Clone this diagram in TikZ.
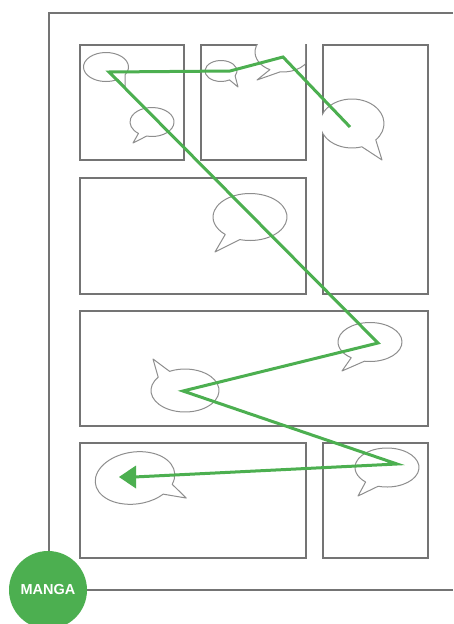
\documentclass[tikz,border=0pt]{standalone}
\usepackage{fontspec}
\setmainfont{Liberation Sans}
\usetikzlibrary{calc}
\definecolor{frame}{HTML}{747474}
\definecolor{bubc}{HTML}{8E8E8E}
\definecolor{mgreen}{HTML}{4CAF50}
\tikzset{
  panel/.style={draw=frame, line width=1.5pt},
  page/.style={draw=frame, line width=1.5pt},
  bub/.style={draw=bubc, line width=1pt, fill=white, line join=round},
  readpath/.style={draw=mgreen, line width=3pt, line join=miter},
  badge/.style={circle, fill=mgreen, minimum size=78pt, inner sep=0pt, text=white, font=\bfseries\fontsize{14.5}{15}\selectfont},
}
% \bub{cx}{cy}{rx}{ry}{a1}{a2}{tipx}{tipy}  (image coordinates, y downward)
\newcommand\bub[8]{%
  \draw[bub] ($(#1,-#2)+(#6:#3 and #4)$) arc[start angle=#6, end angle={#5+360}, x radius=#3, y radius=#4] -- (#7,-#8) -- cycle;}
\begin{document}
\begin{tikzpicture}[x=1pt,y=1pt]
\useasboundingbox (0,-624) rectangle (453,0);
% page
\coordinate (ptl) at (49,-13);
\coordinate (ptr) at (453,-13);
\coordinate (pbl) at (49,-590);
\coordinate (pbr) at (453,-590);
\draw[page] (ptr) -- (ptl) -- (pbl) -- (pbr);
% panels
\node[panel, minimum width=104pt, minimum height=115pt, anchor=north west, inner sep=0pt] (p1) at (79,-44) {};
\node[panel, minimum width=105pt, minimum height=115pt, anchor=north west, inner sep=0pt] (p2) at (200,-44) {};
\node[panel, minimum width=105pt, minimum height=249pt, anchor=north west, inner sep=0pt] (p3) at (322,-44) {};
\node[panel, minimum width=226pt, minimum height=116pt, anchor=north west, inner sep=0pt] (p4) at (79,-177) {};
\node[panel, minimum width=348pt, minimum height=115pt, anchor=north west, inner sep=0pt] (p5) at (79,-310) {};
\node[panel, minimum width=226pt, minimum height=115pt, anchor=north west, inner sep=0pt] (p6) at (79,-442) {};
\node[panel, minimum width=105pt, minimum height=115pt, anchor=north west, inner sep=0pt] (p7) at (322,-442) {};
% bubbles
\bub{106}{67}{22.5}{14.5}{-58}{-32}{125}{87}
\bub{152}{122}{22}{14.5}{-128}{-104}{133}{143}
\bub{221}{71}{16}{10.5}{-58}{-28}{238}{87}
\begin{scope}
  \clip (200,-44) rectangle (305,-159);
  \bub{283}{52}{28}{20}{-118}{-96}{257}{80}
\end{scope}
\begin{scope}
  \clip (322,-44) rectangle (427,-293);
  \bub{352}{123.5}{32}{24.5}{-72}{-42}{382}{160}
\end{scope}
\bub{250}{217}{37}{23.5}{-132}{-106}{215}{252}
\bub{370}{342}{32}{19.5}{-126}{-100}{342}{371}
\bub{185}{390.5}{34}{21.5}{117}{142}{153}{359}
\bub{387}{467.5}{32}{19.5}{-132}{-106}{358}{496}
\begin{scope}[rotate around={8:(135,-478)}]
  \bub{135}{478}{40}{26}{-50}{-26}{183}{505}
\end{scope}
% reading path
\coordinate (r0) at (350,-127);
\coordinate (r1) at (283,-57);
\coordinate (r2) at (230,-71);
\coordinate (r3) at (109,-72);
\coordinate (r4) at (378,-343);
\coordinate (r5) at (183,-391);
\coordinate (r6) at (397,-464);
\coordinate (r7) at (134,-477);
\coordinate (tip) at (119,-477);
\draw[readpath] (r0) -- (r1) -- (r2) -- (r3) -- (r4) -- (r5) -- (r6) -- (r7);
\fill[mgreen] (tip) -- ($(r7)+(2,11.5)$) -- ($(r7)+(2,-11.5)$) -- cycle;
% badge
\node[badge] (manga) at (48,-590) {MANGA};
\end{tikzpicture}
\end{document}
